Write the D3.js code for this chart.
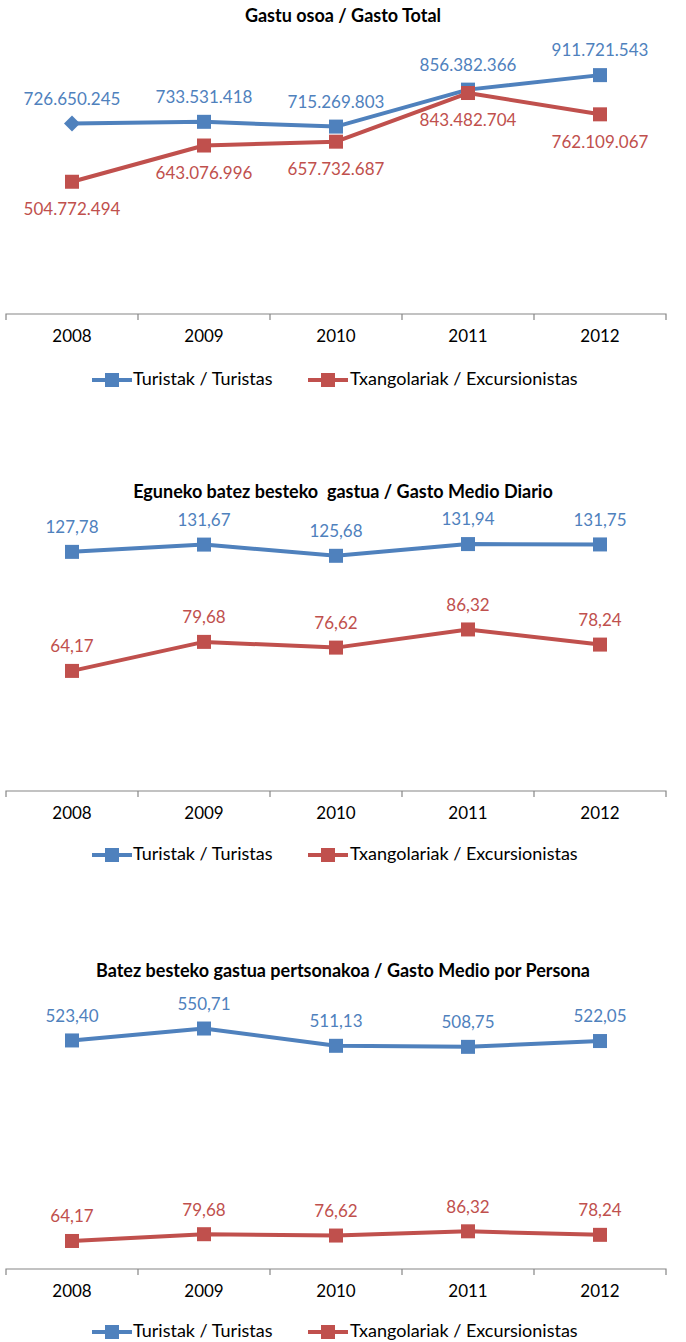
<!DOCTYPE html>
<html><head><meta charset="utf-8">
<script src="https://cdn.jsdelivr.net/npm/d3@7"></script>
<style>
body{margin:0;background:#fff;}
svg{display:block;}
text{font-family:Lato,"Open Sans",sans-serif;}
</style></head><body>
<svg id="c" width="686" height="1342"></svg>
<script>
const years = ["2008","2009","2010","2011","2012"];
const seriesNames = ["Turistak / Turistas","Txangolariak / Excursionistas"];
const titles = ["Gastu osoa / Gasto Total","Eguneko batez besteko  gastua / Gasto Medio Diario","Batez besteko gastua pertsonakoa / Gasto Medio por Persona"];
const totalTuristas = [726650245, 733531418, 715269803, 856382366, 911721543];
const totalExcursionistas = [504772494, 643076996, 657732687, 843482704, 762109067];
const totalLabelsTuristas = ["726.650.245","733.531.418","715.269.803","856.382.366","911.721.543"];
const totalLabelsExcursionistas = ["504.772.494","643.076.996","657.732.687","843.482.704","762.109.067"];
const diarioTuristas = [127.78, 131.67, 125.68, 131.94, 131.75];
const diarioExcursionistas = [64.17, 79.68, 76.62, 86.32, 78.24];
const personaTuristas = [523.40, 550.71, 511.13, 508.75, 522.05];
const personaExcursionistas = [64.17, 79.68, 76.62, 86.32, 78.24];
const colors = ["#4F81BD","#C0504D"];

const svg = d3.select("#c");
const fmtComma = v => v.toFixed(2).replace(".", ",");

function drawChart(cfg){
  const g = svg.append("g");
  const x = d3.scaleBand().domain(years).range([6,666]).padding(0);
  const y = d3.scaleLinear().domain([0,cfg.max]).range([cfg.axisY, cfg.axisY-262]);
  g.append("text").attr("x",343).attr("y",cfg.titleY).attr("text-anchor","middle")
    .attr("dominant-baseline","middle").attr("font-weight","bold").attr("font-size",18)
    .attr("fill","#000").style("white-space","pre").attr("xml:space","preserve").text(cfg.title);
  const ax = g.append("g").attr("transform",`translate(0,${cfg.axisY})`)
    .call(d3.axisBottom(x).tickSize(0).tickPadding(0));
  ax.select(".domain").attr("stroke","#868686").attr("stroke-width",1.2)
    .attr("d",`M6,6V0H666V6`);
  ax.selectAll(".tick text").remove();
  ax.selectAll(".bnd").data(years.slice(1)).enter().append("line")
    .attr("x1",d=>x(d)).attr("x2",d=>x(d)).attr("y1",0).attr("y2",6)
    .attr("stroke","#868686").attr("stroke-width",1.2);
  g.selectAll(".yr").data(years).enter().append("text")
    .attr("x",d=>x(d)+x.bandwidth()/2).attr("y",cfg.axisY+24)
    .attr("text-anchor","middle").attr("dominant-baseline","middle")
    .attr("font-size",17).attr("fill","#000").text(d=>d);
  const line = d3.line().x((d,i)=>x(years[i])+x.bandwidth()/2).y(d=>y(d));
  cfg.series.forEach((s,si)=>{
    g.append("path").datum(s.values).attr("d",line).attr("fill","none")
      .attr("stroke",colors[si]).attr("stroke-width",4).attr("stroke-linejoin","round");
    s.values.forEach((v,i)=>{
      const cx = x(years[i])+x.bandwidth()/2, cy = y(v);
      if(s.diamondFirst && i===0){
        g.append("path").attr("d",`M${cx-8},${cy}L${cx},${cy-8}L${cx+8},${cy}L${cx},${cy+8}Z`).attr("fill",colors[si]);
      } else {
        g.append("rect").attr("x",cx-7).attr("y",cy-7).attr("width",14).attr("height",14).attr("fill",colors[si]);
      }
      const below = s.below && s.below[i];
      g.append("text").attr("x",cx).attr("y",below? cy+29 : cy-23)
        .attr("text-anchor","middle").attr("dominant-baseline","middle")
        .attr("font-size",17).attr("fill",colors[si]).text(s.labels[i]);
    });
  });
  const leg = [{x:92,tx:133},{x:308,tx:350}];
  leg.forEach((l,si)=>{
    g.append("line").attr("x1",l.x).attr("x2",l.x+40).attr("y1",cfg.legendY).attr("y2",cfg.legendY)
      .attr("stroke",colors[si]).attr("stroke-width",4);
    g.append("rect").attr("x",l.x+13).attr("y",cfg.legendY-7).attr("width",14).attr("height",14).attr("fill",colors[si]);
    g.append("text").attr("x",l.tx).attr("y",cfg.legendY).attr("dominant-baseline","middle")
      .attr("font-size",18).attr("fill","#000").text(seriesNames[si]);
  });
}

drawChart({title:titles[0], titleY:17, axisY:314, max:1e9, legendY:380,
  series:[
    {values:totalTuristas, labels:totalLabelsTuristas, diamondFirst:true},
    {values:totalExcursionistas, labels:totalLabelsExcursionistas, below:[true,true,true,true,true]}
  ]});
drawChart({title:titles[1], titleY:493, axisY:791, max:140, legendY:855,
  series:[
    {values:diarioTuristas, labels:diarioTuristas.map(fmtComma)},
    {values:diarioExcursionistas, labels:diarioExcursionistas.map(fmtComma)}
  ]});
drawChart({title:titles[2], titleY:972, axisY:1269, max:600, legendY:1332,
  series:[
    {values:personaTuristas, labels:personaTuristas.map(fmtComma)},
    {values:personaExcursionistas, labels:personaExcursionistas.map(fmtComma)}
  ]});
</script></body></html>
